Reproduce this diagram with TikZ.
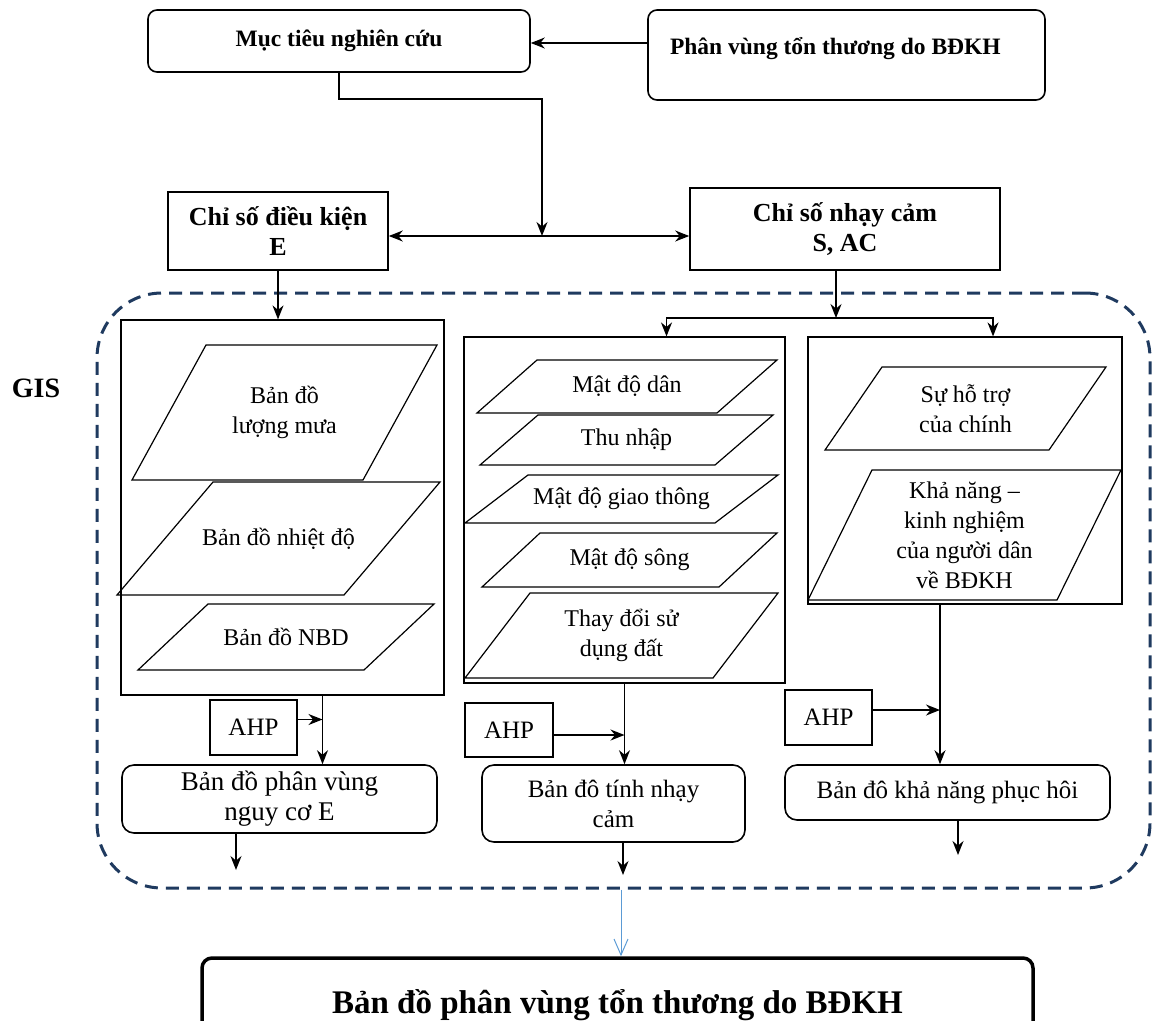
\documentclass[tikz,border=0pt]{standalone}
\usepackage{fontspec}
\setmainfont{Liberation Serif}
\usepackage{tikz}
\usetikzlibrary{arrows.meta}
\definecolor{gisdash}{HTML}{1F3A5F}
\definecolor{gisblue}{HTML}{5B9BD5}
\tikzstyle{topbox} = [rectangle, rounded corners=9pt, draw=black, line width=1.6pt, font=\bfseries\fontsize{23.5}{28}\selectfont]
\tikzstyle{idxbox} = [rectangle, draw=black, line width=1.6pt, align=center, font=\bfseries\fontsize{26}{30}\selectfont]
\tikzstyle{colbox} = [rectangle, draw=black, line width=1.2pt]
\tikzstyle{layer} = [draw=black, line width=1.2pt]
\tikzstyle{layertext} = [align=center, font=\fontsize{24}{30}\selectfont]
\tikzstyle{ahpbox} = [rectangle, draw=black, line width=1.5pt, font=\fontsize{25}{30}\selectfont]
\tikzstyle{mapbox} = [rectangle, rounded corners=12pt, draw=black, line width=1.6pt, align=center, font=\fontsize{25}{30}\selectfont]
\tikzstyle{arrow} = [line width=1.5pt,->,>={Stealth[length=14pt,width=11pt]}]
\tikzstyle{bluearrow} = [draw=gisblue, line width=1pt,->,>={Straight Barb[length=16pt,width=14pt]}]
% parallelogram layer: name, top-left x, bottom-left x, top y, bottom y, width, text
\newcommand{\maplayer}[7]{%
  \draw[layer] (#2,#4) -- ++(#6,0) -- (#3+#6,#5) -- (#3,#5) -- cycle;
  \node[layertext] (#1) at ({(#2+#3+#6)/2},{(#4+#5)/2}) {#7};
}
\begin{document}
\begin{tikzpicture}[x=1pt,y=-1pt]
\clip (0,0) rectangle (1159,1020);

% GIS frame
\node (gis) [rectangle, rounded corners=65pt, draw=gisdash, line width=3pt, dash pattern=on 13pt off 8pt, minimum width=1053pt, minimum height=595pt] at (623.5,590.5) {};
\node (gislabel) [font=\bfseries\fontsize{28}{32}\selectfont] at (36,388) {GIS};

% top
\node (muctieu) [topbox, minimum width=382pt, minimum height=62pt] at (339,41) {Mục tiêu nghiên cứu};
\node (phanvung) [topbox, minimum width=397pt, minimum height=90pt, text width=353pt, align=flush left, text depth=18pt] at (846.5,55) {Phân vùng tổn thương do BĐKH};
\node (dieukien) [idxbox, minimum width=220pt, minimum height=78pt] at (278,231) {Chỉ số điều kiện\\E};
\node (nhaycam) [idxbox, minimum width=310pt, minimum height=82pt] at (845,229) {Chỉ số nhạy cảm\\S, AC};
\coordinate (mid) at (542,236);
\coordinate (split) at (836,318);

\draw [arrow] (phanvung.west |- 0,43) -- (muctieu.east |- 0,43);
\draw [arrow] (muctieu.south) -- ++(0,26) -| (mid);
\draw [arrow, <->] (dieukien.east |- mid) -- (nhaycam.west |- mid);

% columns
\node (leftcol) [colbox, minimum width=323pt, minimum height=375pt] at (282.5,507.5) {};
\node (midcol) [colbox, minimum width=321pt, minimum height=346pt] at (624.5,510) {};
\node (rightcol) [colbox, minimum width=314pt, minimum height=267pt] at (965,470.5) {};

\draw [arrow] (dieukien.south) -- (dieukien.south |- leftcol.north);
\draw [arrow] (nhaycam.south -| split) -- (split);
\draw [arrow] (split) -| ([xshift=42pt]midcol.north);
\draw [arrow] (split) -| ([xshift=28pt]rightcol.north);

% layers
\maplayer{mua}{206}{132}{345}{480}{231}{Bản đồ\\lượng mưa}
\maplayer{nhietdo}{213}{117}{482}{595}{227}{Bản đồ nhiệt độ}
\maplayer{nbd}{208}{138}{604}{670}{226}{Bản đồ NBD}
\maplayer{danso}{537}{477}{360}{413}{240}{Mật độ dân}
\maplayer{thunhap}{538}{480}{415}{465}{235}{Thu nhập}
\maplayer{giaothong}{528}{465}{475}{523}{250}{Mật độ giao thông}
\maplayer{song}{540}{482}{533}{587}{237}{Mật độ sông}
\maplayer{sudungdat}{530}{465}{593}{678}{248}{Thay đổi sử\\dụng đất}
\maplayer{chinhquyen}{882}{825}{367}{450}{224}{Sự hỗ trợ\\của chính}
\maplayer{kinhnghiem}{872}{808}{470}{600}{249}{Khả năng –\\kinh nghiệm\\của người dân\\về BĐKH}

% AHP and result maps
\node (ahpE) [ahpbox, minimum width=87pt, minimum height=55pt] at (253.5,727.5) {AHP};
\node (ahpS) [ahpbox, minimum width=88pt, minimum height=54pt] at (509,730) {AHP};
\node (ahpR) [ahpbox, minimum width=87pt, minimum height=55pt] at (828.5,717.5) {AHP};
\node (mapE) [mapbox, minimum width=315pt, minimum height=68pt, font=\fontsize{27}{30}\selectfont] at (279.5,799) {Bản đồ phân vùng\\nguy cơ E};
\node (mapS) [mapbox, minimum width=263pt, minimum height=77pt] at (613.5,803.5) {Bản đô tính nhạy\\cảm};
\node (mapR) [mapbox, minimum width=325pt, minimum height=55pt] at (947.5,792.5) {Bản đô khả năng phục hôi};

\coordinate (lineE) at ([xshift=40pt]leftcol.south);
\coordinate (lineS) at (midcol.south);
\coordinate (lineR) at ([xshift=-25pt]rightcol.south);
\draw [arrow] (lineE) -- (lineE |- mapE.north);
\draw [arrow] (lineS) -- (lineS |- mapS.north);
\draw [arrow] (lineR) -- (lineR |- mapR.north);
\draw [arrow] ([yshift=8pt]ahpE.east) -- ([yshift=8pt]ahpE.east -| lineE);
\draw [arrow] ([yshift=-5pt]ahpS.east) -- ([yshift=-5pt]ahpS.east -| lineS);
\draw [arrow] ([yshift=7.5pt]ahpR.east) -- ([yshift=7.5pt]ahpR.east -| lineR);

\coordinate (endE) at (236,870);
\coordinate (endS) at (623,875);
\coordinate (endR) at (958,855);
\draw [arrow] (mapE.south -| endE) -- (endE);
\draw [arrow] (mapS.south -| endS) -- (endS);
\draw [arrow] (mapR.south -| endR) -- (endR);

% final
\node (final) [rectangle, rounded corners=10pt, draw=black, line width=3.5pt, minimum width=831pt, minimum height=94pt, font=\bfseries\fontsize{33}{36}\selectfont] at (617.5,1005) {Bản đồ phân vùng tổn thương do BĐKH};
\draw [bluearrow] (gis.south -| 621,0) -- (final.north -| 621,0);
\end{tikzpicture}
\end{document}
